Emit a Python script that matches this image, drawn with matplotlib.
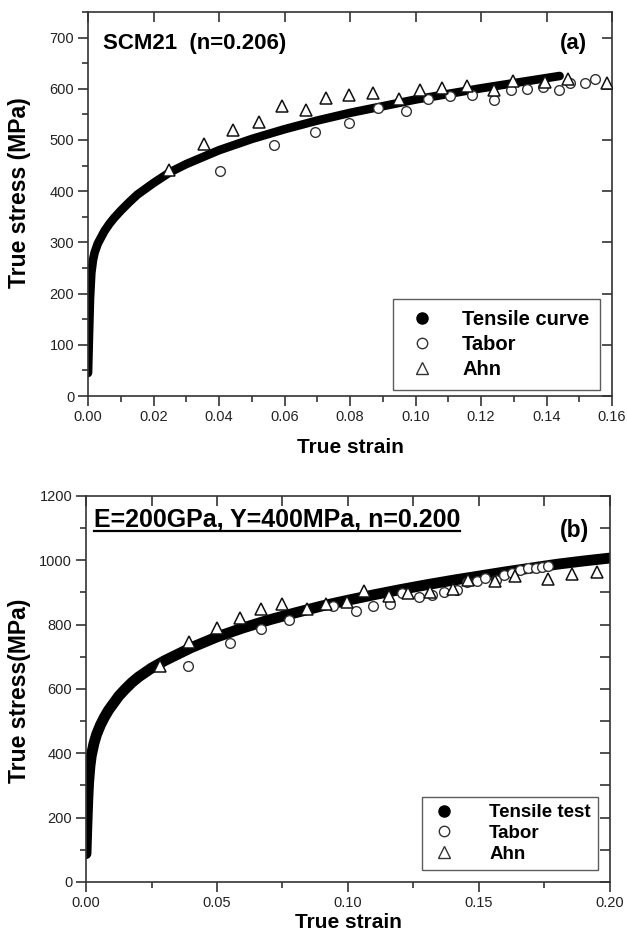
import matplotlib
matplotlib.use("Agg")
import matplotlib.pyplot as plt
from matplotlib.lines import Line2D
from matplotlib.ticker import MultipleLocator, FormatStrFormatter, NullLocator

plt.rcParams['font.family'] = ['Liberation Sans', 'DejaVu Sans']

# ---------------- Panel (a) data ----------------
a_curve_strain = [0.0, 0.0003, 0.0006, 0.001, 0.0015, 0.002, 0.003, 0.004, 0.005, 0.0065,
                  0.008, 0.01, 0.0125, 0.015, 0.02, 0.025, 0.03, 0.04, 0.05, 0.06, 0.07,
                  0.08, 0.09, 0.10, 0.11, 0.12, 0.13, 0.144]
a_curve_stress = [45, 120, 190, 240, 265, 280, 298, 310, 322, 336,
                  348, 362, 378, 393, 416, 437, 453, 480, 502, 521, 538,
                  553, 566, 579, 590, 601, 611, 625]
a_tabor_strain = [0.0402, 0.0568, 0.0692, 0.0798, 0.0886, 0.0971, 0.1039, 0.1105, 0.1173,
                  0.1241, 0.1292, 0.1339, 0.1388, 0.1438, 0.1472, 0.1517, 0.1547]
a_tabor_stress = [440, 490, 516, 533, 563, 556, 580, 586, 588, 578, 597, 600, 603, 598, 612, 612, 619]
a_ahn_strain = [0.0247, 0.0355, 0.0444, 0.0521, 0.0592, 0.0665, 0.0726, 0.0796, 0.0870,
                0.0951, 0.1013, 0.1082, 0.1158, 0.1239, 0.1297, 0.1396, 0.1466, 0.1585]
a_ahn_stress = [442, 493, 520, 536, 566, 558, 582, 588, 591, 580, 598, 602, 605, 598, 615, 613, 620, 611]

# ---------------- Panel (b) data ----------------
b_curve_strain = [0.0, 0.0003, 0.0007, 0.001, 0.0015, 0.002, 0.003, 0.004, 0.0055, 0.007,
                  0.0085, 0.01, 0.0125, 0.015, 0.0175, 0.02, 0.025, 0.03, 0.04, 0.05,
                  0.06, 0.07, 0.08, 0.09, 0.10, 0.11, 0.12, 0.13, 0.14, 0.15, 0.16, 0.17,
                  0.18, 0.19, 0.20]
b_curve_stress = [88, 170, 260, 310, 360, 392, 430, 458, 488, 512,
                  533, 550, 578, 600, 620, 637, 665, 688, 728, 762,
                  790, 815, 837, 858, 876, 893, 909, 924, 938, 951, 964, 976,
                  988, 998, 1007]
b_tabor_strain = [0.0388, 0.0548, 0.0669, 0.0774, 0.0942, 0.1029, 0.1095, 0.1159, 0.1206,
                  0.1273, 0.1321, 0.1366, 0.1415, 0.1456, 0.1492, 0.1522, 0.1565, 0.1595,
                  0.1626, 0.1656, 0.1687, 0.1718, 0.1740, 0.1763]
b_tabor_stress = [670, 743, 788, 816, 857, 844, 858, 865, 899, 886, 892, 900, 909, 934,
                  936, 945, 938, 953, 961, 969, 975, 977, 980, 982]
b_ahn_strain = [0.0284, 0.0395, 0.0499, 0.0586, 0.0667, 0.0748, 0.0843, 0.0915, 0.0997,
                0.1060, 0.1156, 0.1229, 0.1313, 0.1400, 0.1458, 0.1563, 0.1637, 0.1763,
                0.1855, 0.1950]
b_ahn_stress = [672, 746, 791, 821, 849, 863, 848, 863, 869, 904, 888, 899, 902, 912,
                938, 936, 951, 942, 959, 964]

a_legend = ["Tensile curve", "Tabor", "Ahn"]
b_legend = ["Tensile test", "Tabor", "Ahn"]

EDGE = '#333333'

fig = plt.figure(figsize=(6.27, 9.36), dpi=100)
axA = fig.add_axes([0.1404, 0.5769, 0.8357, 0.4103])
axB = fig.add_axes([0.1372, 0.0577, 0.8355, 0.4124])


def style_axes(ax, xmaj, xmin, ymaj, ymin, minor_inside):
    for s in ax.spines.values():
        s.set_linewidth(1.2)
        s.set_color(EDGE)
    ax.xaxis.set_major_locator(MultipleLocator(xmaj))
    ax.xaxis.set_minor_locator(MultipleLocator(xmin))
    ax.yaxis.set_major_locator(MultipleLocator(ymaj))
    ax.yaxis.set_minor_locator(MultipleLocator(ymin))
    ax.tick_params(which='major', direction='out', length=7, width=1.2, color=EDGE,
                   labelsize=10.5, labelcolor='#222222', pad=3)
    ax.tick_params(which='minor', direction='out', length=4, width=1.2, color=EDGE)
    sx = ax.secondary_xaxis('top')
    sy = ax.secondary_yaxis('right')
    sx.xaxis.set_major_locator(MultipleLocator(xmaj))
    sy.yaxis.set_major_locator(MultipleLocator(ymaj))
    if minor_inside:
        sx.xaxis.set_minor_locator(MultipleLocator(xmin))
        sy.yaxis.set_minor_locator(MultipleLocator(ymin))
    else:
        sx.xaxis.set_minor_locator(NullLocator())
        sy.yaxis.set_minor_locator(NullLocator())
    for sec in (sx, sy):
        sec.tick_params(which='both', direction='in', length=7, width=1.2, color=EDGE,
                        labelleft=False, labelright=False, labeltop=False, labelbottom=False)
        for s in sec.spines.values():
            s.set_visible(False)


# ---------- Panel (a) ----------
axA.plot(a_curve_strain, a_curve_stress, color='black', lw=6.2, solid_capstyle='round',
         solid_joinstyle='round', zorder=2)
axA.plot(a_tabor_strain, a_tabor_stress, ls='none', marker='o', ms=7, mfc='white',
         mec=EDGE, mew=1.0, zorder=3)
axA.plot(a_ahn_strain, a_ahn_stress, ls='none', marker='^', ms=8, mfc='white',
         mec='#111111', mew=1.1, zorder=4)
axA.set_xlim(0, 0.16)
axA.set_ylim(0, 750)
style_axes(axA, 0.02, 0.01, 100, 50, False)
axA.xaxis.set_major_formatter(FormatStrFormatter('%.2f'))
axA.set_xlabel('True strain', fontsize=15, fontweight='bold', labelpad=10)
axA.set_ylabel('True stress (MPa)', fontsize=16.5, fontweight='bold')
axA.yaxis.set_label_coords(-0.108, 0.53)
axA.text(0.028, 0.917, 'SCM21  (n=0.206)', transform=axA.transAxes, fontsize=16,
         fontweight='bold', ha='left', va='center')
axA.text(0.952, 0.917, '(a)', transform=axA.transAxes, fontsize=16,
         fontweight='bold', ha='right', va='center')

hA = [Line2D([], [], ls='none', marker='o', ms=8, mfc='black', mec='black'),
      Line2D([], [], ls='none', marker='o', ms=7.5, mfc='white', mec=EDGE, mew=1.0),
      Line2D([], [], ls='none', marker='^', ms=8.5, mfc='white', mec=EDGE, mew=1.0)]
legA = axA.legend(hA, a_legend, loc='lower right', bbox_to_anchor=(0.978, 0.016),
                  prop={'weight': 'bold', 'size': 14.5}, frameon=True, fancybox=False,
                  edgecolor=EDGE, handletextpad=1.1, borderpad=0.55, labelspacing=0.3,
                  handlelength=1.8, borderaxespad=0)
legA.get_frame().set_linewidth(1.0)

# ---------- Panel (b) ----------
axB.plot(b_curve_strain, b_curve_stress, color='black', lw=7.8, solid_capstyle='round',
         solid_joinstyle='round', zorder=2)
axB.plot(b_tabor_strain, b_tabor_stress, ls='none', marker='o', ms=7, mfc='white',
         mec=EDGE, mew=1.0, zorder=3)
axB.plot(b_ahn_strain, b_ahn_stress, ls='none', marker='^', ms=8, mfc='white',
         mec='#111111', mew=1.1, zorder=4)
axB.set_xlim(0, 0.20)
axB.set_ylim(0, 1200)
style_axes(axB, 0.05, 0.025, 200, 100, True)
axB.xaxis.set_major_formatter(FormatStrFormatter('%.2f'))
axB.set_xlabel('True strain', fontsize=15, fontweight='bold', labelpad=2)
axB.set_ylabel('True stress(MPa)', fontsize=16.5, fontweight='bold')
axB.yaxis.set_label_coords(-0.105, 0.495)
tB = axB.text(0.015, 0.938, 'E=200GPa, Y=400MPa, n=0.200', transform=axB.transAxes,
              fontsize=18, fontweight='bold', ha='left', va='center',
              family=['Liberation Sans Narrow', 'Liberation Sans'])
axB.text(0.96, 0.91, '(b)', transform=axB.transAxes, fontsize=16.5,
         fontweight='bold', ha='right', va='center')

hB = [Line2D([], [], ls='none', marker='o', ms=8, mfc='black', mec='black'),
      Line2D([], [], ls='none', marker='o', ms=7.5, mfc='white', mec=EDGE, mew=1.0),
      Line2D([], [], ls='none', marker='^', ms=8.5, mfc='white', mec=EDGE, mew=1.0)]
legB = axB.legend(hB, b_legend, loc='lower right', bbox_to_anchor=(0.978, 0.03),
                  prop={'weight': 'bold', 'size': 13.5}, frameon=True, fancybox=False,
                  edgecolor=EDGE, handletextpad=1.6, borderpad=0.4, labelspacing=0.2,
                  handlelength=1.6, borderaxespad=0)
legB.get_frame().set_linewidth(1.0)

# underline for panel (b) annotation
fig.canvas.draw()
bb = tB.get_window_extent(renderer=fig.canvas.get_renderer())
inv = fig.transFigure.inverted()
(x0, y0), (x1, y1) = inv.transform([(bb.x0, bb.y0), (bb.x1, bb.y0)])
fig.add_artist(Line2D([x0, x1], [y0 + 0.001, y0 + 0.001], transform=fig.transFigure,
                      color='black', lw=1.6))

fig.savefig('out.png', dpi=100)
